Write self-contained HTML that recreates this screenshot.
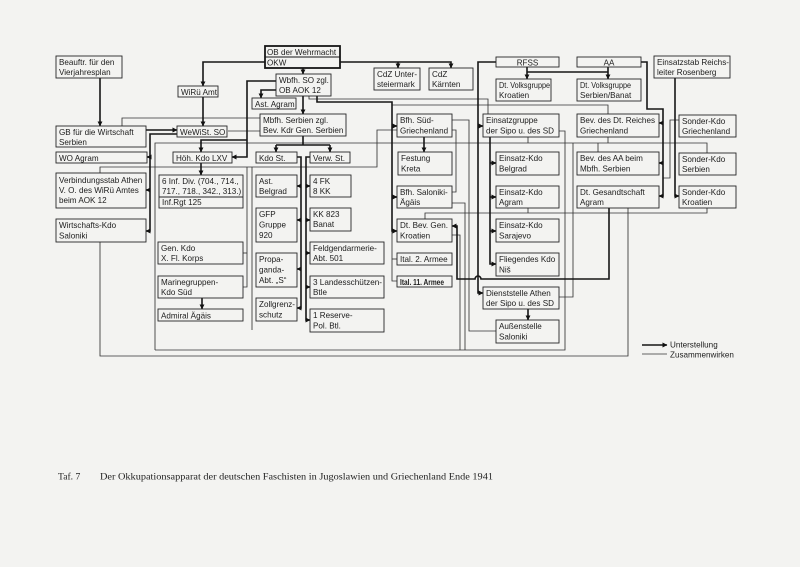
<!DOCTYPE html>
<html><head><meta charset="utf-8"><style>
html,body{margin:0;padding:0;background:#f3f3f1;}
svg{display:block;}
.b{fill:none;stroke:#262626;stroke-width:0.9;}
.T{fill:none;stroke:#161616;stroke-width:1.6;}
.t{fill:none;stroke:#333;stroke-width:0.85;}
text{font-family:"Liberation Sans",Arial,sans-serif;font-size:8.1px;fill:#1c1c1c;}
.cap{font-family:"Liberation Serif","Times New Roman",serif;font-size:9.6px;fill:#222;}
</style></head><body>
<svg width="800" height="567" viewBox="0 0 800 567" xmlns="http://www.w3.org/2000/svg">
<defs><marker id="a" markerWidth="5" markerHeight="5" refX="4.6" refY="2.5" orient="auto" markerUnits="userSpaceOnUse"><path d="M0,0 L5,2.5 L0,5 z" fill="#111"/></marker></defs>
<rect width="800" height="567" fill="#f3f3f1"/>

<!-- thin connectors -->
<g class="t">
<path d="M122,126 V118 H260"/>
<path d="M228,131 H260"/>
<path d="M155,350 V143 H707 V153"/>
<path d="M598,143 V152"/><path d="M528,137 V143"/><path d="M608,137 V143"/>
<path d="M100,173 V167 H377 V130 H397"/>
<path d="M100,242 V356 H628 V208"/>
<path d="M252,167 V330"/>
<path d="M247,167 V287 H243"/><path d="M247,253 H243"/>
<path d="M452,120 H469 V331 H496"/>
<path d="M452,130 H456 V192 H452"/>
<path d="M559,131 H565 V350 H155"/>
<path d="M573,143 V297 H559"/>
<path d="M392,231 V281 H397"/><path d="M392,259 H397"/>
<path d="M425,219 V213 H707 V208"/><path d="M528,208 V213"/>
<path d="M679,120 H670 V178 H663"/>
<path d="M452,235 H460 V350"/>
<path d="M452,203 H465 V350"/>
<path d="M309,96 V99 H488 V114"/>
<path d="M392,105 H608 V114"/>
<path d="M642,354 H667"/>
</g>

<!-- thick connectors -->
<g class="T">
<path d="M265,62 H203 V86" marker-end="url(#a)"/>
<path d="M203,97 V126" marker-end="url(#a)"/>
<path d="M100,78 V126" marker-end="url(#a)"/>
<path d="M146,130 H177" marker-end="url(#a)"/>
<path d="M303,68 V74" marker-end="url(#a)"/>
<path d="M340,62 H451 V68" marker-end="url(#a)"/>
<path d="M398,62 V68" marker-end="url(#a)"/>
<path d="M276,90 H261 V98" marker-end="url(#a)"/>
<path d="M303,96 V114" marker-end="url(#a)"/>
<path d="M276,81 H247 V157 H232" marker-end="url(#a)"/>
<path d="M247,140 H201 V152" marker-end="url(#a)"/>
<path d="M177,134 H150 V231 H146" marker-end="url(#a)"/>
<path d="M150,157 H147" marker-end="url(#a)"/>
<path d="M150,190 H146" marker-end="url(#a)"/>
<path d="M201,163 V175" marker-end="url(#a)"/>
<path d="M202,298 V309" marker-end="url(#a)"/>
<path d="M303,136 V145 M276,145 H330"/>
<path d="M276,145 V152" marker-end="url(#a)"/>
<path d="M330,145 V152" marker-end="url(#a)"/>
<path d="M297,157 H301 V308 H297" marker-end="url(#a)"/>
<path d="M301,186 H297" marker-end="url(#a)"/>
<path d="M301,220 H297" marker-end="url(#a)"/>
<path d="M301,269 H297" marker-end="url(#a)"/>
<path d="M310,157 H306 V320 H310" marker-end="url(#a)"/>
<path d="M306,186 H310" marker-end="url(#a)"/>
<path d="M306,220 H310" marker-end="url(#a)"/>
<path d="M306,253 H310" marker-end="url(#a)"/>
<path d="M306,287 H310" marker-end="url(#a)"/>
<path d="M317,96 V102 H392 V231 H397" marker-end="url(#a)"/>
<path d="M392,126 H397" marker-end="url(#a)"/>
<path d="M392,197 H397" marker-end="url(#a)"/>
<path d="M424,137 V152" marker-end="url(#a)"/>
<path d="M527,72 H608"/>
<path d="M527,67 V79" marker-end="url(#a)"/>
<path d="M608,67 V79" marker-end="url(#a)"/>
<path d="M496,62 H478 V293 H483" marker-end="url(#a)"/>
<path d="M478,126 H483" marker-end="url(#a)"/>
<path d="M490,137 V264 H496" marker-end="url(#a)"/>
<path d="M490,163 H496" marker-end="url(#a)"/>
<path d="M490,197 H496" marker-end="url(#a)"/>
<path d="M490,231 H496" marker-end="url(#a)"/>
<path d="M528,309 V320" marker-end="url(#a)"/>
<path d="M641,62 H647 V109 H663 V196 H659" marker-end="url(#a)"/>
<path d="M663,123 H659" marker-end="url(#a)"/>
<path d="M663,163 H659" marker-end="url(#a)"/>
<path d="M675,78 V196 H679" marker-end="url(#a)"/>
<path d="M609,208 V279 H481 A3,3 0 0 0 475,279 H457 V226 H452" marker-end="url(#a)"/>
<path d="M642,345 H667" marker-end="url(#a)"/>
</g>

<!-- boxes -->
<g class="b">
<rect x="56" y="56" width="66" height="22"/>
<rect x="178" y="86" width="40" height="11"/>
<rect x="276" y="74" width="55" height="22"/>
<rect x="252" y="98" width="44" height="11"/>
<rect x="374" y="68" width="46" height="22"/>
<rect x="429" y="68" width="44" height="22"/>
<rect x="496" y="57" width="63" height="10"/>
<rect x="577" y="57" width="64" height="10"/>
<rect x="654" y="56" width="76" height="22"/>
<rect x="496" y="79" width="55" height="22"/>
<rect x="577" y="79" width="64" height="22"/>
<rect x="56" y="126" width="90" height="21"/>
<rect x="177" y="126" width="50" height="11"/>
<rect x="260" y="114" width="86" height="22"/>
<rect x="397" y="114" width="55" height="23"/>
<rect x="483" y="114" width="76" height="23"/>
<rect x="577" y="114" width="82" height="23"/>
<rect x="679" y="115" width="57" height="22"/>
<rect x="56" y="152" width="91" height="11"/>
<rect x="173" y="152" width="59" height="11"/>
<rect x="256" y="152" width="41" height="11"/>
<rect x="310" y="152" width="40" height="11"/>
<rect x="398" y="152" width="54" height="23"/>
<rect x="496" y="152" width="63" height="23"/>
<rect x="577" y="152" width="82" height="23"/>
<rect x="679" y="153" width="57" height="22"/>
<rect x="56" y="173" width="90" height="35"/>
<rect x="159" y="175" width="84" height="33"/>
<line x1="159" y1="197" x2="243" y2="197"/>
<rect x="256" y="175" width="41" height="22"/>
<rect x="310" y="175" width="41" height="22"/>
<rect x="397" y="186" width="55" height="22"/>
<rect x="496" y="186" width="63" height="22"/>
<rect x="577" y="186" width="82" height="22"/>
<rect x="679" y="186" width="57" height="22"/>
<rect x="56" y="219" width="90" height="23"/>
<rect x="256" y="208" width="41" height="34"/>
<rect x="310" y="208" width="41" height="23"/>
<rect x="397" y="219" width="55" height="23"/>
<rect x="496" y="219" width="63" height="23"/>
<rect x="158" y="242" width="85" height="22"/>
<rect x="310" y="242" width="74" height="22"/>
<rect x="256" y="253" width="41" height="34"/>
<rect x="397" y="253" width="55" height="12"/>
<rect x="496" y="253" width="63" height="23"/>
<rect x="158" y="276" width="85" height="22"/>
<rect x="310" y="276" width="74" height="22"/>
<rect x="397" y="276" width="55" height="11"/>
<rect x="483" y="287" width="76" height="22"/>
<rect x="256" y="298" width="41" height="23"/>
<rect x="158" y="309" width="85" height="12"/>
<rect x="310" y="309" width="74" height="23"/>
<rect x="496" y="320" width="63" height="23"/>
</g>
<rect x="265" y="46" width="75" height="22" fill="none" stroke="#161616" stroke-width="1.8"/>
<line x1="265" y1="57" x2="340" y2="57" stroke="#161616" stroke-width="1"/>

<!-- labels -->
<text x="59" y="65">Beauftr. für den</text><text x="59" y="75">Vierjahresplan</text>
<text x="267" y="55">OB der Wehrmacht</text><text x="267" y="65.5">OKW</text>
<text x="181" y="95">WiRü Amt</text>
<text x="279" y="83">Wbfh. SO zgl.</text><text x="279" y="93">OB AOK 12</text>
<text x="255" y="107">Ast. Agram</text>
<text x="377" y="77">CdZ Unter-</text><text x="377" y="87">steiermark</text>
<text x="432" y="77">CdZ</text><text x="432" y="87">Kärnten</text>
<text x="527.5" y="65.5" text-anchor="middle">RFSS</text>
<text x="609" y="65.5" text-anchor="middle">AA</text>
<text x="657" y="65" textLength="72" lengthAdjust="spacingAndGlyphs">Einsatzstab Reichs-</text><text x="657" y="75">leiter Rosenberg</text>
<text x="499" y="88" textLength="51" lengthAdjust="spacingAndGlyphs">Dt. Volksgruppe</text><text x="499" y="98">Kroatien</text>
<text x="580" y="88" textLength="51" lengthAdjust="spacingAndGlyphs">Dt. Volksgruppe</text><text x="580" y="98">Serbien/Banat</text>
<text x="59" y="135">GB für die Wirtschaft</text><text x="59" y="145">Serbien</text>
<text x="180" y="135">WeWiSt. SO</text>
<text x="263" y="123">Mbfh. Serbien zgl.</text><text x="263" y="133">Bev. Kdr Gen. Serbien</text>
<text x="400" y="123">Bfh. Süd-</text><text x="400" y="133.5">Griechenland</text>
<text x="486" y="123">Einsatzgruppe</text><text x="486" y="133.5">der Sipo u. des SD</text>
<text x="580" y="123" textLength="75" lengthAdjust="spacingAndGlyphs">Bev. des Dt. Reiches</text><text x="580" y="133.5">Griechenland</text>
<text x="682" y="124">Sonder-Kdo</text><text x="682" y="134">Griechenland</text>
<text x="59" y="161">WO Agram</text>
<text x="176" y="161">Höh. Kdo LXV</text>
<text x="259" y="161">Kdo St.</text>
<text x="313" y="161">Verw. St.</text>
<text x="401" y="161">Festung</text><text x="401" y="171.5">Kreta</text>
<text x="499" y="161">Einsatz-Kdo</text><text x="499" y="171.5">Belgrad</text>
<text x="580" y="161">Bev. des AA beim</text><text x="580" y="171.5">Mbfh. Serbien</text>
<text x="682" y="162">Sonder-Kdo</text><text x="682" y="172">Serbien</text>
<text x="59" y="183">Verbindungsstab Athen</text><text x="59" y="193">V. O. des WiRü Amtes</text><text x="59" y="203">beim AOK 12</text>
<text x="162" y="184">6 Inf. Div. (704., 714.,</text><text x="162" y="194">717., 718., 342., 313.)</text><text x="162" y="205">Inf.Rgt 125</text>
<text x="259" y="184">Ast.</text><text x="259" y="194">Belgrad</text>
<text x="313" y="184">4 FK</text><text x="313" y="194">8 KK</text>
<text x="400" y="195">Bfh. Saloniki-</text><text x="400" y="205">Ägäis</text>
<text x="499" y="195">Einsatz-Kdo</text><text x="499" y="205">Agram</text>
<text x="580" y="195">Dt. Gesandtschaft</text><text x="580" y="205">Agram</text>
<text x="682" y="195">Sonder-Kdo</text><text x="682" y="205">Kroatien</text>
<text x="59" y="228">Wirtschafts-Kdo</text><text x="59" y="238.5">Saloniki</text>
<text x="259" y="217">GFP</text><text x="259" y="227.5">Gruppe</text><text x="259" y="238">920</text>
<text x="313" y="217">KK 823</text><text x="313" y="227">Banat</text>
<text x="400" y="228">Dt. Bev. Gen.</text><text x="400" y="238.5">Kroatien</text>
<text x="499" y="228">Einsatz-Kdo</text><text x="499" y="238.5">Sarajevo</text>
<text x="161" y="251">Gen. Kdo</text><text x="161" y="261">X. Fl. Korps</text>
<text x="313" y="251">Feldgendarmerie-</text><text x="313" y="261">Abt. 501</text>
<text x="259" y="262">Propa-</text><text x="259" y="272.5">ganda-</text><text x="259" y="283">Abt. „S“</text>
<text x="400" y="262">Ital. 2. Armee</text>
<text x="499" y="262">Fliegendes Kdo</text><text x="499" y="272.5">Niš</text>
<text x="161" y="285">Marinegruppen-</text><text x="161" y="295">Kdo Süd</text>
<text x="313" y="285" textLength="69" lengthAdjust="spacingAndGlyphs">3 Landesschützen-</text><text x="313" y="295">Btle</text>
<text x="400" y="285" font-weight="bold" font-size="7.6" textLength="44" lengthAdjust="spacingAndGlyphs">Ital. 11. Armee</text>
<text x="486" y="296">Dienststelle Athen</text><text x="486" y="306">der Sipo u. des SD</text>
<text x="259" y="307">Zollgrenz-</text><text x="259" y="317.5">schutz</text>
<text x="161" y="318.5">Admiral Ägäis</text>
<text x="313" y="318">1 Reserve-</text><text x="313" y="328.5">Pol. Btl.</text>
<text x="499" y="329">Außenstelle</text><text x="499" y="339.5">Saloniki</text>

<text x="670" y="347.5">Unterstellung</text>
<text x="670" y="357.5">Zusammenwirken</text>

<text class="cap" x="58" y="479.5">Taf. 7</text>
<text class="cap" x="100" y="479.5" textLength="393" lengthAdjust="spacingAndGlyphs">Der Okkupationsapparat der deutschen Faschisten in Jugoslawien und Griechenland Ende 1941</text>
</svg>
</body></html>
